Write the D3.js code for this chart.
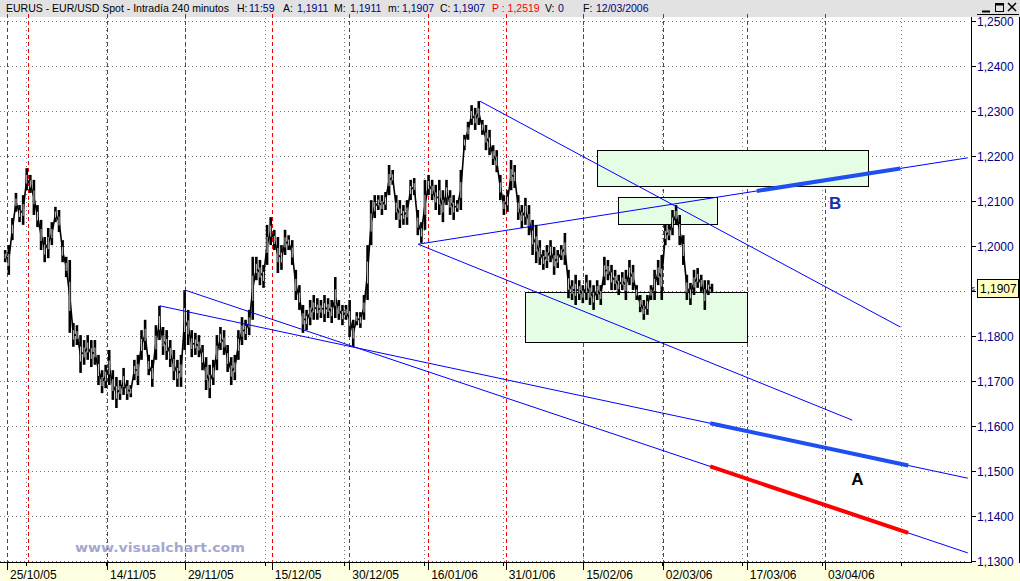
<!DOCTYPE html>
<html><head><meta charset="utf-8">
<script src="https://cdn.jsdelivr.net/npm/d3@7"></script>
<style>
body{margin:0;background:#fff;}
svg{display:block;font-family:"Liberation Sans",Arial,sans-serif;}
</style>
</head><body>
<svg id="c" width="1020" height="581"></svg>
<script>
// ---------------- DATA ----------------
// 12-hour bars, x in trading-day index (0 = 25/10/05)
const barStartDay = -0.25;
const barStepDay = 0.5;
const highs = [1.1991,1.2002,1.2062,1.2118,1.2091,1.2113,1.2173,1.2158,1.2147,1.2091,
1.2058,1.2020,1.2040,1.2053,1.2087,1.2080,1.2013,1.1976,1.1969,1.1829,
1.1824,1.1802,1.1791,1.1802,1.1791,1.1791,1.1758,1.1724,1.1736,1.1769,
1.1724,1.1709,1.1702,1.1729,1.1702,1.1691,1.1747,1.1758,1.1813,1.1836,
1.1758,1.1747,1.1824,1.1867,1.1820,1.1813,1.1791,1.1769,1.1747,1.1758,
1.1902,1.1858,1.1813,1.1807,1.1802,1.1780,1.1753,1.1736,1.1747,1.1802,
1.1820,1.1813,1.1780,1.1753,1.1758,1.1813,1.1842,1.1836,1.1858,1.1976,
1.1976,1.1969,1.1958,1.2047,1.2064,1.2036,1.2020,1.2002,1.2036,1.2024,
1.2013,1.1947,1.1913,1.1869,1.1858,1.1880,1.1891,1.1884,1.1880,1.1891,
1.1884,1.1880,1.1931,1.1880,1.1869,1.1869,1.1880,1.1836,1.1853,1.1853,
1.1891,1.2002,1.2102,1.2113,1.2113,1.2113,1.2120,1.2180,1.2169,1.2113,
1.2102,1.2091,1.2102,1.2147,1.2151,1.2080,1.2053,1.2147,1.2158,1.2147,
1.2136,1.2147,1.2124,1.2147,1.2124,1.2113,1.2102,1.2169,1.2247,1.2276,
1.2313,1.2307,1.2322,1.2280,1.2269,1.2258,1.2224,1.2213,1.2158,1.2113,
1.2124,1.2191,1.2180,1.2113,1.2091,1.2107,1.2091,1.2058,1.2047,1.2013,
1.1991,1.2002,1.2013,1.1998,1.1991,1.2002,1.2029,1.1947,1.1924,1.1936,
1.1924,1.1913,1.1936,1.1924,1.1913,1.1924,1.1913,1.1976,1.1969,1.1958,
1.1947,1.1936,1.1942,1.1947,1.1969,1.1958,1.1913,1.1891,1.1880,1.1891,
1.1913,1.1947,1.1969,1.1980,1.2047,1.2047,1.2080,1.2091,1.2069,1.2024,
1.1936,1.1918,1.1947,1.1951,1.1936,1.1924,1.1924,1.1916];
const lows = [1.1964,1.1936,1.2013,1.2076,1.2053,1.2047,1.2124,1.2118,1.2069,1.2042,
1.1991,1.1964,1.1973,1.2002,1.2053,1.2031,1.1964,1.1931,1.1807,1.1776,
1.1780,1.1718,1.1736,1.1747,1.1731,1.1736,1.1691,1.1673,1.1684,1.1691,
1.1658,1.1640,1.1658,1.1669,1.1658,1.1664,1.1702,1.1691,1.1747,1.1769,
1.1713,1.1687,1.1747,1.1791,1.1758,1.1747,1.1731,1.1702,1.1687,1.1687,
1.1769,1.1780,1.1753,1.1758,1.1753,1.1724,1.1680,1.1662,1.1691,1.1724,
1.1769,1.1758,1.1720,1.1691,1.1702,1.1747,1.1780,1.1791,1.1802,1.1836,
1.1924,1.1913,1.1907,1.1958,1.2002,1.1991,1.1940,1.1947,1.1980,1.1991,
1.1958,1.1880,1.1858,1.1807,1.1813,1.1824,1.1836,1.1836,1.1840,1.1831,
1.1840,1.1829,1.1840,1.1836,1.1824,1.1836,1.1798,1.1776,1.1824,1.1818,
1.1836,1.1880,1.2002,1.2062,1.2080,1.2069,1.2080,1.2113,1.2136,1.2058,
1.2040,1.2047,1.2047,1.2102,1.2113,1.2024,1.2007,1.2036,1.2113,1.2102,
1.2080,1.2069,1.2053,1.2091,1.2069,1.2058,1.2076,1.2080,1.2213,1.2236,
1.2269,1.2258,1.2269,1.2247,1.2213,1.2202,1.2180,1.2164,1.2102,1.2069,
1.2076,1.2124,1.2129,1.2058,1.2040,1.2047,1.2024,1.1980,1.1962,1.1958,
1.1947,1.1951,1.1964,1.1936,1.1951,1.1969,1.1958,1.1884,1.1880,1.1869,
1.1880,1.1873,1.1880,1.1869,1.1858,1.1880,1.1869,1.1913,1.1924,1.1902,
1.1902,1.1891,1.1902,1.1880,1.1913,1.1902,1.1880,1.1853,1.1836,1.1847,
1.1880,1.1880,1.1913,1.1880,1.2002,1.2013,1.2024,1.2047,1.2002,1.1958,
1.1880,1.1869,1.1891,1.1907,1.1898,1.1858,1.1891,1.1898];

const priceTicks = [1.25,1.24,1.23,1.22,1.21,1.20,1.19,1.18,1.17,1.16,1.15,1.14,1.13];
const dateTickDays = [0,13.94,24.8,36.9,47.7,58.7,69.5,80.3,91.4,103.1,114];
const dateLabels = ["25/10/05","14/11/05","29/11/05","15/12/05","30/12/05","16/01/06","31/01/06","15/02/06","02/03/06","17/03/06","03/04/06"];
const extraRedDays = [2.95];

// trend lines: [startDay, startPrice, endDay, endPrice]
const trendStartDay = [21.3, 24.8, 57.3, 57.3, 65.9];
const trendStartPrice = [1.1867, 1.1902, 1.2004, 1.2004, 1.2322];
const trendEndDay = [133.9, 133.9, 133.9, 117.8, 124.5];
const trendEndPrice = [1.1484, 1.1318, 1.2196, 1.1613, 1.1820];

// highlighted segments along trend lines
const segLine = [0, 1, 2];
const segFromDay = [98.0, 98.0, 104.5];
const segToDay = [125.6, 125.6, 124.5];
const segColor = ["#1f4ff0", "#ff0000", "#1f4ff0"];

// zones
const zoneFromDay = [82.2, 85.2, 72.2];
const zoneToDay = [119.9, 99.0, 103.1];
const zoneTop = [1.2213, 1.2109, 1.1898];
const zoneBottom = [1.2133, 1.2049, 1.1787];

const noteText = ["A", "B"];
const noteDay = [118.5, 115.4];
const notePrice = [1.1469, 1.2082];
const noteColor = ["#000000", "#1a2fa8"];

const lastPrice = 1.1907;

const headerParts = [
  ["EURUS - EUR/USD Spot - Intradía 240 minutos", "#000"],
  ["H:", "#000"], ["11:59", "#000080"],
  ["A:", "#000"], ["1,1911", "#000080"],
  ["M:", "#000"], ["1,1911", "#000080"],
  ["m:", "#000"], ["1,1907", "#000080"],
  ["C:", "#000"], ["1,1907", "#000080"],
  ["P : 1,2519", "#ff0000"],
  ["V:", "#000"], ["0", "#000080"],
  ["F:", "#000"], ["12/03/2006", "#000080"]
];
const headerX = [6, 237, 249, 283, 297, 334, 350, 388, 402, 440, 453, 492, 545, 558, 583, 596];

// ---------------- LAYOUT ----------------
const W = 1020, H = 581;
const plot = {left: 0, right: 968, top: 18, bottom: 562};
const axisX = 971;
const svg = d3.select("#c");

const x = d3.scaleLinear().domain([0, 114]).range([7, 825]);
const y = d3.scaleLinear().domain([1.13, 1.25]).range([561, 21]);
const fmt = v => d3.format(".4f")(v).replace(".", ",");

// backgrounds
svg.append("rect").attr("x",0).attr("y",0).attr("width",W).attr("height",H).attr("fill","#fff");
svg.append("rect").attr("x",0).attr("y",plot.bottom).attr("width",W).attr("height",H-plot.bottom).attr("fill","#ffffe1");
svg.append("rect").attr("x",0).attr("y",0).attr("width",W).attr("height",17).attr("fill","#e2e2e2");

svg.append("clipPath").attr("id","pc").append("rect")
  .attr("x",plot.left).attr("y",plot.top).attr("width",plot.right-plot.left).attr("height",plot.bottom-plot.top);

// horizontal dotted grid
svg.append("g").selectAll("line").data(priceTicks).join("line")
  .attr("x1",plot.left).attr("x2",plot.right)
  .attr("y1",d=>Math.round(y(d))+0.5).attr("y2",d=>Math.round(y(d))+0.5)
  .attr("stroke","#808080").attr("stroke-dasharray","1,3");

// vertical dotted grid (equal pixel spacing)
const gridXs = d3.range(12).map(i => 26 + i*79.55);
svg.append("g").selectAll("line").data(gridXs).join("line")
  .attr("x1",d=>Math.round(d)+0.5).attr("x2",d=>Math.round(d)+0.5)
  .attr("y1",plot.top).attr("y2",plot.bottom)
  .attr("stroke","#808080").attr("stroke-dasharray","1,3");

// red dashed date lines
const redDays = dateTickDays.concat(extraRedDays);
svg.append("g").selectAll("line").data(redDays).join("line")
  .attr("x1",d=>Math.round(x(d))+0.5).attr("x2",d=>Math.round(x(d))+0.5)
  .attr("y1",14).attr("y2",plot.bottom)
  .attr("stroke","#ff0000").attr("stroke-dasharray","4,3");

// zones
const gz = svg.append("g").attr("clip-path","url(#pc)");
gz.selectAll("rect").data(zoneFromDay).join("rect")
  .attr("x",(d,i)=>Math.round(x(d))+0.5)
  .attr("y",(d,i)=>Math.round(y(zoneTop[i]))+0.5)
  .attr("width",(d,i)=>Math.round(x(zoneToDay[i])-x(d)))
  .attr("height",(d,i)=>Math.round(y(zoneBottom[i])-y(zoneTop[i])))
  .attr("fill","#e4fde4").attr("stroke","#000").attr("stroke-width",1);

// price bars
const bars = highs.map((h,i)=>({d: barStartDay + i*barStepDay, h, l: lows[i]}));
const gp = svg.append("g").attr("clip-path","url(#pc)");
// connecting trace through bar mid-points
gp.append("path").datum(bars)
  .attr("d", d3.line().x(b=>x(b.d)).y(b=>y((b.h+b.l)/2)))
  .attr("fill","none").attr("stroke","#000").attr("stroke-width",1.6);
// solid bars (high-low)
gp.selectAll("line.bar").data(bars).join("line").attr("class","bar")
  .attr("x1",b=>x(b.d)).attr("x2",b=>x(b.d))
  .attr("y1",b=>y(b.h)).attr("y2",b=>y(b.l))
  .attr("stroke","#000").attr("stroke-width",2.6);
// hollow body slits
gp.selectAll("line.body").data(bars.filter(b => y(b.l)-y(b.h) > 9)).join("line").attr("class","body")
  .attr("x1",b=>x(b.d)).attr("x2",b=>x(b.d))
  .attr("y1",b=>y(b.h)+(y(b.l)-y(b.h))*0.3).attr("y2",b=>y(b.l)-(y(b.l)-y(b.h))*0.3)
  .attr("stroke","#fff").attr("stroke-width",0.8);

// trend lines
const gt = svg.append("g").attr("clip-path","url(#pc)");
gt.selectAll("line").data(trendStartDay).join("line")
  .attr("x1",(d,i)=>x(d)).attr("y1",(d,i)=>y(trendStartPrice[i]))
  .attr("x2",(d,i)=>x(trendEndDay[i])).attr("y2",(d,i)=>y(trendEndPrice[i]))
  .attr("stroke","#0000ff").attr("stroke-width",1);

const priceOn = (li, day) => {
  const t = (day - trendStartDay[li]) / (trendEndDay[li] - trendStartDay[li]);
  return trendStartPrice[li] + t*(trendEndPrice[li]-trendStartPrice[li]);
};
gt.selectAll("line.seg").data(segLine).join("line").attr("class","seg")
  .attr("x1",(li,i)=>x(segFromDay[i])).attr("y1",(li,i)=>y(priceOn(li,segFromDay[i])))
  .attr("x2",(li,i)=>x(segToDay[i])).attr("y2",(li,i)=>y(priceOn(li,segToDay[i])))
  .attr("stroke",(li,i)=>segColor[i]).attr("stroke-width",4);

// notes A / B
svg.append("g").selectAll("text").data(noteText).join("text")
  .attr("x",(d,i)=>x(noteDay[i])).attr("y",(d,i)=>y(notePrice[i]))
  .attr("text-anchor","middle").attr("font-size",17).attr("font-weight","bold")
  .attr("fill",(d,i)=>noteColor[i]).text(d=>d);

// watermark
svg.append("text").attr("x",75).attr("y",552)
  .attr("font-family","'DejaVu Sans',Verdana,sans-serif").attr("font-weight","bold")
  .attr("font-size",13).attr("fill","#a3a8cf")
  .attr("textLength",170).attr("lengthAdjust","spacingAndGlyphs")
  .text("www.visualchart.com");

// right axis
svg.append("line").attr("x1",axisX+0.5).attr("x2",axisX+0.5).attr("y1",17).attr("y2",plot.bottom+1)
  .attr("stroke","#000");
svg.append("line").attr("x1",1019.5).attr("x2",1019.5).attr("y1",17).attr("y2",plot.bottom+1)
  .attr("stroke","#000");
const ra = svg.append("g");
ra.selectAll("line").data(priceTicks).join("line")
  .attr("x1",axisX).attr("x2",axisX+5)
  .attr("y1",d=>Math.round(y(d))+0.5).attr("y2",d=>Math.round(y(d))+0.5)
  .attr("stroke","#000");
// labels hidden where the last-price marker covers them
const labelTicks = priceTicks.filter(v => Math.abs(y(v) - y(lastPrice)) > 12);
ra.selectAll("text").data(labelTicks).join("text")
  .attr("x",977).attr("y",d=>y(d)+4.5)
  .attr("font-size",12).attr("fill","#000080").text(fmt);

// last price marker
svg.append("rect").attr("x",977.5).attr("y",Math.round(y(lastPrice))-8.5)
  .attr("width",41).attr("height",18).attr("fill","#ffffc0").attr("stroke","#000");
svg.append("text").attr("x",980).attr("y",y(lastPrice)+5)
  .attr("font-size",12).attr("fill","#000").text(fmt(lastPrice));
svg.append("text").attr("x",971.5).attr("y",y(lastPrice)+3)
  .attr("font-size",7).attr("fill","#000").text("s");

// bottom axis
svg.append("line").attr("x1",0).attr("x2",axisX+1).attr("y1",plot.bottom+0.5).attr("y2",plot.bottom+0.5)
  .attr("stroke","#000");
const ba = svg.append("g");
ba.selectAll("line.maj").data(dateTickDays).join("line").attr("class","maj")
  .attr("x1",d=>Math.round(x(d))+0.5).attr("x2",d=>Math.round(x(d))+0.5)
  .attr("y1",plot.bottom).attr("y2",plot.bottom+8).attr("stroke","#000");
ba.selectAll("line.min").data(gridXs).join("line").attr("class","min")
  .attr("x1",d=>Math.round(d)+0.5).attr("x2",d=>Math.round(d)+0.5)
  .attr("y1",plot.bottom).attr("y2",plot.bottom+4).attr("stroke","#000");
ba.selectAll("text").data(dateLabels).join("text")
  .attr("x",(d,i)=>x(dateTickDays[i])+3).attr("y",579)
  .attr("font-size",12).attr("fill","#000").text(d=>d);

// header
const hg = svg.append("g").attr("font-size",10.5);
hg.selectAll("text").data(headerParts).join("text")
  .attr("x",(d,i)=>headerX[i]).attr("y",12)
  .attr("fill",d=>d[1]).text(d=>d[0]);

// window buttons
const bx = [981, 994, 1007];
const wb = svg.append("g").attr("stroke","#000").attr("fill","none");
wb.append("line").attr("x1",bx[0]+1).attr("x2",bx[0]+9).attr("y1",11.5).attr("y2",11.5).attr("stroke-width",2);
wb.append("rect").attr("x",bx[1]+1.5).attr("y",3.5).attr("width",8).attr("height",8);
wb.append("line").attr("x1",bx[1]+1.5).attr("x2",bx[1]+9.5).attr("y1",4.5).attr("y2",4.5).attr("stroke-width",2);
wb.append("path").attr("d",`M${bx[2]+1},3 L${bx[2]+9},11 M${bx[2]+9},3 L${bx[2]+1},11`).attr("stroke-width",1.5);
wb.append("line").attr("x1",977).attr("x2",1019).attr("y1",14.5).attr("y2",14.5).attr("stroke","#000");
</script>
</body></html>
